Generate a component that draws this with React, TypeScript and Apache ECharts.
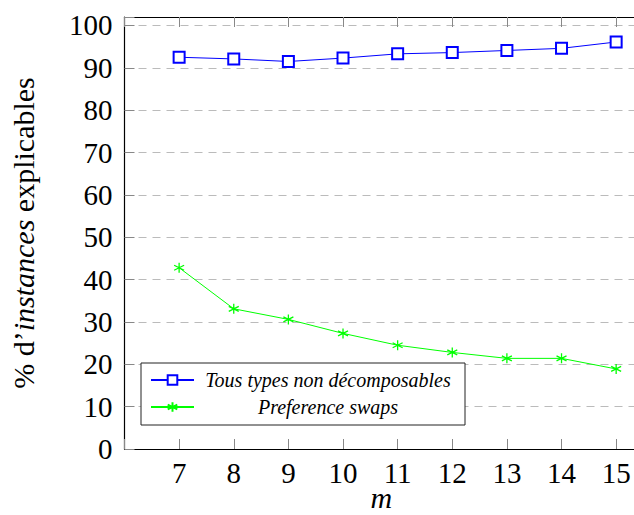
import React, { useEffect, useRef } from "react";
import * as echarts from "echarts";

const mValues = [7, 8, 9, 10, 11, 12, 13, 14, 15];
const tousTypesValues = [92.5, 92.1, 91.5, 92.3, 93.3, 93.6, 94.1, 94.6, 96.1];
const preferenceSwapsValues = [42.8, 33.1, 30.6, 27.3, 24.5, 22.8, 21.4, 21.4, 18.9];
const seriesNames = ["Tous types non décomposables", "Preference swaps"];
const xAxisTitle = "m";
const yAxisTitle = "% d’{i|instances} explicables";

const serif = "Liberation Serif";
const asterisk = "path://M5,0 L5,10 M0.67,2.5 L9.33,7.5 M0.67,7.5 L9.33,2.5";

export default function App() {
  const ref = useRef<HTMLDivElement>(null);
  useEffect(() => {
    const chart = echarts.init(ref.current!, null, { renderer: "svg" });
    const xLabel = (v: number) => (Number.isInteger(v) && v >= 7 && v <= 15 ? String(v) : "");
    const yLabel = (v: number) => (Number.isInteger(v) && v <= 100 ? String(v) : "");
    const tick = { show: true, inside: true, length: 10, lineStyle: { color: "#888", width: 1 } };
    const axisLine = { show: true, onZero: false, lineStyle: { color: "#000", width: 1.2 } };
    chart.setOption({
      animation: false,
      backgroundColor: "#fff",
      grid: { left: 124.5, top: 17, right: -4, bottom: 66, outerBoundsMode: "none", containLabel: false },
      xAxis: [
        {
          type: "value",
          min: 6,
          max: 15.4,
          interval: 1,
          position: "bottom",
          axisLine,
          axisTick: tick,
          splitLine: { show: false },
          axisLabel: { formatter: xLabel, margin: 9, fontFamily: serif, fontSize: 29, color: "#000" },
          name: xAxisTitle,
          nameLocation: "middle",
          nameGap: 33,
          nameMoveOverlap: false,
          nameTextStyle: { fontFamily: serif, fontStyle: "italic", fontSize: 30, color: "#000" },
        },
        {
          type: "value",
          min: 6,
          max: 15.4,
          interval: 1,
          position: "top",
          axisLine,
          axisTick: tick,
          splitLine: { show: false },
          axisLabel: { show: false },
        },
      ],
      yAxis: {
        type: "value",
        min: 0,
        max: 102,
        interval: 10,
        axisLine,
        axisTick: tick,
        splitLine: { show: true, lineStyle: { color: "#bbb", width: 1, type: [8, 6] } },
        axisLabel: { formatter: yLabel, margin: 12, fontFamily: serif, fontSize: 29, color: "#000" },
        name: yAxisTitle,
        nameLocation: "middle",
        nameGap: 86,
        nameMoveOverlap: false,
        nameTextStyle: {
          fontFamily: serif,
          fontSize: 30,
          color: "#000",
          rich: { i: { fontFamily: serif, fontSize: 30, fontStyle: "italic", color: "#000" } },
        },
      },
      legend: {
        orient: "vertical",
        left: 141,
        top: 363,
        padding: [7, 8, 8, 9],
        itemGap: 7,
        itemWidth: 43,
        itemHeight: 12,
        borderColor: "#222",
        borderWidth: 1,
        backgroundColor: "#fff",
        data: seriesNames,
        formatter: (name: string) => `{t|${name}}`,
        textStyle: {
          rich: {
            t: {
              width: 258,
              align: "center",
              lineHeight: 24,
              fontFamily: serif,
              fontStyle: "italic",
              fontSize: 20,
              color: "#000",
            },
          },
        },
      },
      series: [
        {
          name: seriesNames[0],
          type: "line",
          data: mValues.map((m, i) => [m, tousTypesValues[i]]),
          symbol: "emptyRect",
          symbolSize: 11,
          color: "#0000ff",
          lineStyle: { color: "#0000ff", width: 1 },
          itemStyle: { color: "#0000ff", borderColor: "#0000ff", borderWidth: 1.3 },
        },
        {
          name: seriesNames[1],
          type: "line",
          data: mValues.map((m, i) => [m, preferenceSwapsValues[i]]),
          symbol: asterisk,
          symbolSize: 10,
          color: "#00ff00",
          lineStyle: { color: "#00ff00", width: 1 },
          itemStyle: { color: "#00ff00", borderColor: "#00ff00", borderWidth: 1.3 },
        },
      ],
    });
    return () => chart.dispose();
  }, []);
  return <div ref={ref} style={{ position: "fixed", left: 0, top: 0, width: 634, height: 515 }} />;
}
